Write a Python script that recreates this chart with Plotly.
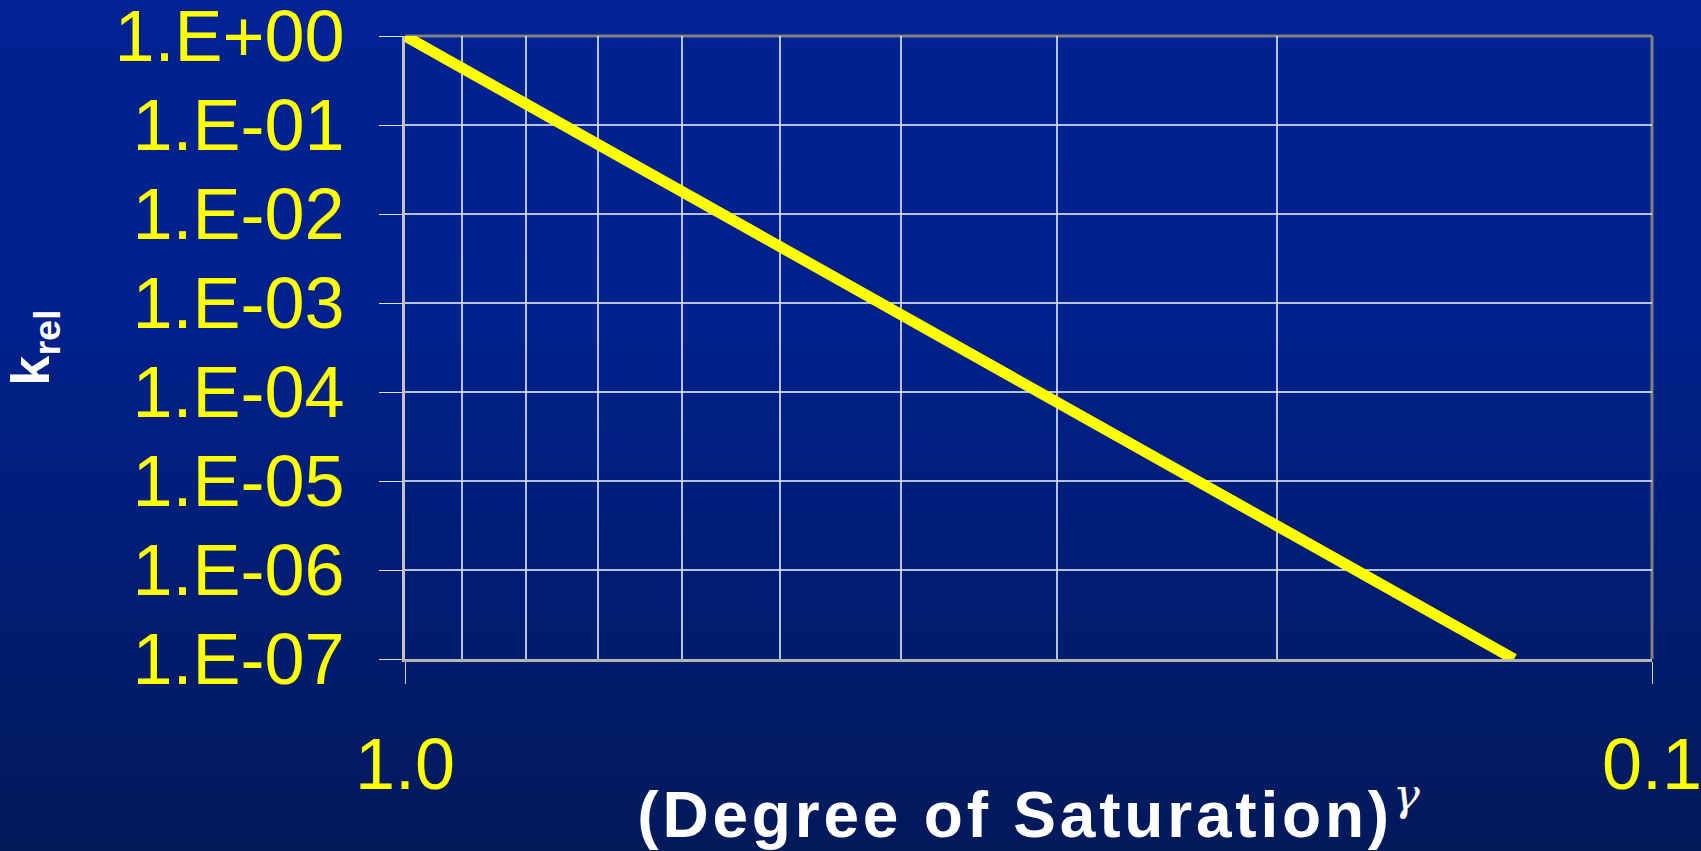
import plotly.graph_objects as go

# ---- data ----
saturation = [1.0, 0.9, 0.8, 0.7, 0.6, 0.5, 0.4, 0.3, 0.2, 0.129]
k_rel = [1.0, 0.437, 0.173, 0.0606, 0.0180, 0.0043, 7.45e-4, 7.76e-5, 3.2e-6, 1.0e-7]

y_tick_vals = [1e0, 1e-1, 1e-2, 1e-3, 1e-4, 1e-5, 1e-6, 1e-7]
y_tick_text = ["1.E+00", "1.E-01", "1.E-02", "1.E-03", "1.E-04", "1.E-05", "1.E-06", "1.E-07"]
x_tick_vals = [1.0, 0.1]
x_tick_text = ["1.0", "0.1"]
x_minor_grid = [0.9, 0.8, 0.7, 0.6, 0.5, 0.4, 0.3, 0.2]

# ---- layout geometry / style ----
W, H = 1701, 851
ML, MR, MT, MB = 405, 49, 36, 192
PW, PH = W - ML - MR, H - MT - MB

YELLOW = "#FFFF00"
GRID = "rgba(215,222,240,0.85)"
FONT = "Liberation Sans, Arial, sans-serif"

fig = go.Figure()
fig.add_trace(go.Scatter(
    x=saturation, y=k_rel, mode="lines",
    line=dict(color=YELLOW, width=11),
    hoverinfo="skip", showlegend=False,
))

# background gradient (top bright navy -> bottom darker)
def hex2rgb(h):
    h = h.lstrip("#")
    return tuple(int(h[i:i + 2], 16) for i in (0, 2, 4))

stops = [(0.0, "#002393"), (0.40, "#00218B"), (1.0, "#031A5A")]
shapes = []
N = 90
for i in range(N):
    t0, t1 = i / N, (i + 1) / N
    tm = (t0 + t1) / 2
    for (a, ca), (b, cb) in zip(stops[:-1], stops[1:]):
        if a <= tm <= b:
            f = (tm - a) / (b - a)
            r1, g1, b1 = hex2rgb(ca)
            r2, g2, b2 = hex2rgb(cb)
            col = "rgb(%d,%d,%d)" % (r1 + (r2 - r1) * f, g1 + (g2 - g1) * f, b1 + (b2 - b1) * f)
            break
    py0 = t0 * H
    py1 = t1 * H + 1
    shapes.append(dict(
        type="rect", xref="paper", yref="paper", layer="below",
        x0=-ML / PW - 0.01, x1=1 + MR / PW + 0.01,
        y0=(H - MB - py1) / PH, y1=(H - MB - py0) / PH,
        fillcolor=col, line=dict(width=0),
    ))

# top and right border of the plot area
shapes.append(dict(type="line", xref="paper", yref="paper", x0=0, x1=1, y0=1, y1=1,
                   line=dict(color="#808080", width=3), layer="between"))
shapes.append(dict(type="line", xref="paper", yref="paper", x0=1, x1=1, y0=0, y1=1,
                   line=dict(color="#808080", width=3), layer="between"))

fig.update_layout(
    width=W, height=H,
    margin=dict(l=ML, r=MR, t=MT, b=MB, pad=0, autoexpand=False),
    paper_bgcolor="#031A5A",
    plot_bgcolor="rgba(0,0,0,0)",
    shapes=shapes,
    showlegend=False,
    font=dict(family=FONT),
)

fig.update_xaxes(
    type="log", range=[0, -1], autorange=False, automargin=False,
    tickvals=x_tick_vals, ticktext=x_tick_text,
    tickfont=dict(color=YELLOW, size=72, family=FONT),
    ticks="outside", ticklen=22, tickwidth=1, tickcolor="#d0d0d0",
    ticklabelstandoff=19, ticklabeloverflow="allow",
    showgrid=True, gridcolor=GRID, gridwidth=1.5,
    minor=dict(tickvals=x_minor_grid, showgrid=True, gridcolor=GRID, gridwidth=1.5, ticks=""),
    showline=True, linecolor="#b4b4b4", linewidth=3,
    zeroline=False,
    title=dict(
        text="<span style='letter-spacing:3.8px'>(Degree of Saturation)</span>"
             "<sup><span style='font-family:DejaVu Serif, serif;font-weight:normal'><i>γ</i></span></sup>",
        font=dict(color="white", size=64, family=FONT, weight="bold"),
        standoff=8,
    ),
)

fig.update_yaxes(
    type="log", range=[-7, 0], autorange=False, automargin=False,
    tickvals=y_tick_vals, ticktext=y_tick_text,
    tickfont=dict(color=YELLOW, size=72, family=FONT),
    ticks="outside", ticklen=23, tickwidth=1, tickcolor="#e0e0e0",
    ticklabelstandoff=20, ticklabeloverflow="allow",
    showgrid=True, gridcolor=GRID, gridwidth=1.5,
    showline=True, linecolor="#c4c4c4", linewidth=3,
    zeroline=False,
    title=dict(
        text="k<sub>rel</sub>",
        font=dict(color="white", size=54, family=FONT, weight="bold"),
        standoff=50,
    ),
)

fig.write_html(
    "out.html",
    config={"displayModeBar": False},
    post_script="document.body.style.margin='0';document.body.style.overflow='hidden';",
)
